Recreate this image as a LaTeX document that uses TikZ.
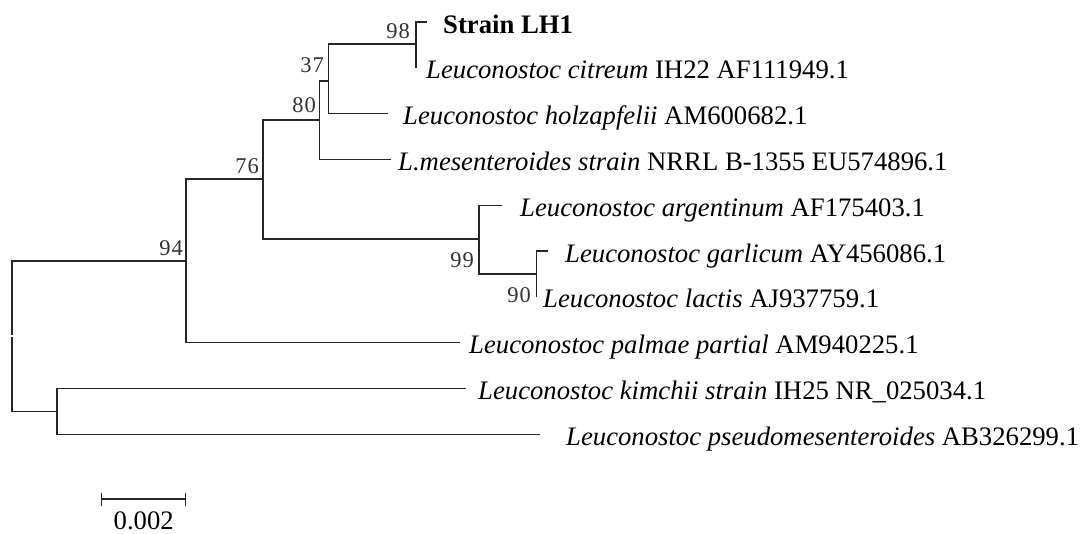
\documentclass[tikz,border=0pt]{standalone}
\usepackage{fontspec}
\setmainfont{Liberation Serif}
\begin{document}
\begin{tikzpicture}[x=1pt,y=-1pt,
  br/.style={line width=1.4pt, draw=black!85},
  taxon/.style={anchor=base west, inner sep=0pt, font=\fontsize{26.7}{30}\selectfont},
  boot/.style={anchor=base east, inner sep=0pt, font=\fontsize{22.5}{25}\selectfont, text=black!80}]
\fill[white] (0,0) rectangle (1082,533);
\useasboundingbox (0,0) rectangle (1082,533);
% tips
\coordinate (tLH1) at (427,22);
\coordinate (tCit) at (416,67.8);
\coordinate (tHol) at (388,113.6);
\coordinate (tMes) at (391,159.4);
\coordinate (tArg) at (502,205.2);
\coordinate (tGar) at (548,251);
\coordinate (tLac) at (536.5,296.8);
\coordinate (tPal) at (460,342.6);
\coordinate (tKim) at (466,388.4);
\coordinate (tPse) at (540,434.2);
% internal nodes
\coordinate (n98) at (416,44);
\coordinate (n37) at (328.5,81);
\coordinate (n80) at (319.5,120);
\coordinate (n76) at (263,179);
\coordinate (n99) at (479,239);
\coordinate (n90) at (536.5,273.9);
\coordinate (n94) at (186,261);
\coordinate (nK) at (57,411.3);
\coordinate (root) at (12,335);
% branches
\draw[br] (n98) |- (tLH1);
\draw[br] (n98) |- (tCit);
\draw[br] (n37) |- (n98);
\draw[br] (n37) |- (tHol);
\draw[br] (n80) |- (n37);
\draw[br] (n80) |- (tMes);
\draw[br] (n76) |- (n80);
\draw[br] (n76) |- (n99);
\draw[br] (n99) |- (tArg);
\draw[br] (n99) |- (n90);
\draw[br] (n90) |- (tGar);
\draw[br] (n90) |- (tLac);
\draw[br] (n94) |- (n76);
\draw[br] (n94) |- (tPal);
\draw[br] (nK) |- (tKim);
\draw[br] (nK) |- (tPse);
\draw[br] (root) |- (n94);
\draw[br] ([yshift=-1.6pt]root) |- (nK);
% bootstrap values
\node[boot] (b98) at (410,38) {9\kern1pt 8};
\node[boot] (b37) at (324,72) {3\kern1pt 7};
\node[boot] (b80) at (316,112) {8\kern1pt 0};
\node[boot] (b76) at (259,173) {7\kern1pt 6};
\node[boot] (b94) at (183,255) {9\kern1pt 4};
\node[boot] (b99) at (474,267) {9\kern1pt 9};
\node[boot] (b90) at (531,302) {9\kern1pt 0};
% taxa
\node[taxon] (lLH1) at (443,33) {\textbf{Strain LH1}};
\node[taxon] (lCit) at (426,78.8) {\textit{Leuconostoc citreum} IH22 AF111949.1};
\node[taxon] (lHol) at (403,124.6) {\textit{Leuconostoc holzapfelii} AM600682.1};
\node[taxon] (lMes) at (398,170.4) {\textit{L.mesenteroides strain} NRRL B-1355 EU574896.1};
\node[taxon] (lArg) at (520,216.2) {\textit{Leuconostoc argentinum} AF175403.1};
\node[taxon] (lGar) at (565,262) {\textit{Leuconostoc garlicum} AY456086.1};
\node[taxon] (lLac) at (543,307.8) {\textit{Leuconostoc lactis} AJ937759.1};
\node[taxon] (lPal) at (469,353.6) {\textit{Leuconostoc palmae partial} AM940225.1};
\node[taxon] (lKim) at (478,399.4) {\textit{Leuconostoc kimchii strain} IH25 NR\_025034.1};
\node[taxon] (lPse) at (566,445.2) {\textit{Leuconostoc pseudomesenteroides} AB326299.1};
% scale bar
\coordinate (sbL) at (101.7,499);
\coordinate (sbR) at (185.7,499);
\draw[br] (sbL) -- (sbR);
\draw[br] ([yshift=6.5pt]sbL) -- ([yshift=-7pt]sbL);
\draw[br] ([yshift=6.5pt]sbR) -- ([yshift=-7pt]sbR);
\node[anchor=base, inner sep=0pt, font=\fontsize{26.7}{30}\selectfont] (sbT) at (143.7,529) {0.002};
\end{tikzpicture}
\end{document}
